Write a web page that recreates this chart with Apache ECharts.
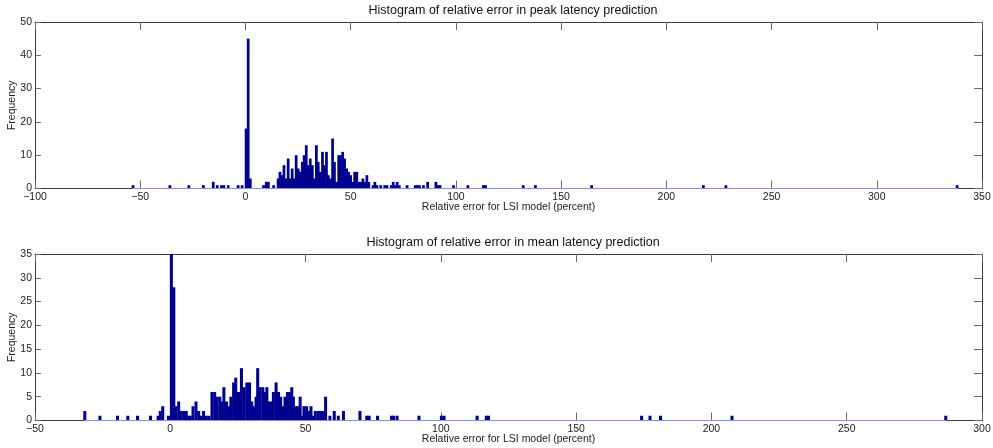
<!DOCTYPE html>
<html>
<head>
<meta charset="utf-8">
<script src="https://cdn.jsdelivr.net/npm/echarts@6/dist/echarts.min.js"></script>
<style>
html,body{margin:0;padding:0;background:#fff;}
#chart{width:993px;height:448px;}
</style>
</head>
<body>
<div id="chart"></div>
<script>
// ---------- DATA ----------
const peakTitle = 'Histogram of relative error in peak latency prediction';
const meanTitle = 'Histogram of relative error in mean latency prediction';
const xName = 'Relative error for LSI model (percent)';
const yName = 'Frequency';

const peakXTicks = [-100, -50, 0, 50, 100, 150, 200, 250, 300, 350];
const peakYTicks = [0, 10, 20, 30, 40, 50];
const meanXTicks = [-50, 0, 50, 100, 150, 200, 250, 300];
const meanYTicks = [0, 5, 10, 15, 20, 25, 30, 35];

const peakBinWidth = 0.96;
const peakCenters = [-53.4, -35.9, -26.9, -20.0, -15.3, -13.4, -11.4, -10.3, -8.2, -3.5, -1.6,
  0.3, 1.3, 2.3, 8.6, 9.9, 10.9, 13.4,
  15.5, 16.4, 17.4, 18.3, 19.3, 20.3, 21.2, 22.2, 23.1, 24.1, 25.1, 26.0, 27.0, 27.9,
  28.9, 29.9, 30.8, 31.8, 32.7, 33.7, 34.6, 35.6, 36.6, 37.5, 38.5, 39.4, 40.4, 41.4,
  42.3, 43.3, 44.3, 45.2, 46.2, 47.1, 48.1, 49.0, 50.0, 51.0, 51.9, 52.9, 53.8, 54.8,
  55.8, 56.7, 57.7, 58.6, 60.6, 61.5, 62.5,
  64.3, 66.2, 67.3, 69.3, 70.2, 71.2, 72.1, 73.1, 76.8, 80.7, 81.7, 82.7, 84.6, 86.6,
  90.5, 91.5, 92.5, 98.9, 105.7, 113.1, 114.1, 132.0, 137.8, 164.5, 217.6, 228.3, 338.2];
const peakCounts = [1, 1, 1, 1, 2, 1, 1, 1, 1, 1, 1,
  18, 45, 3, 1, 2, 2, 1,
  3, 5, 4, 7, 3, 9, 3, 6, 3, 10, 6, 5, 8, 10,
  13, 7, 9, 7, 3, 13, 8, 5, 11, 7, 11, 4, 3, 15,
  8, 2, 10, 10, 11, 9, 6, 5, 4, 2, 5, 5, 2, 2,
  3, 2, 4, 2, 1, 2, 1,
  1, 1, 1, 1, 2, 1, 2, 1, 1, 1, 1, 1, 1, 2,
  2, 1, 1, 1, 1, 1, 1, 1, 1, 1, 1, 1, 1];

const meanBinWidth = 0.86;
const meanCenters = [-31.6, -26.0, -19.5, -15.7, -12.1, -7.3, -4.5, -3.7, -2.8, -0.7,
  0.4, 1.3, 2.1, 3.1, 4.1, 5.2, 5.9, 6.8, 7.4, 8.4, 9.5, 10.5, 11.4, 12.3, 13.3, 14.3,
  15.4, 16.4, 17.3, 18.3, 19.1, 19.8, 20.8, 21.6, 22.4, 23.4, 24.2, 25.2, 26.3, 27.3,
  28.3, 29.3, 30.1, 31.0, 31.7, 32.3, 33.2, 34.2, 35.0, 35.7, 36.4, 37.3, 38.1, 39.1,
  40.0, 40.8, 41.7, 42.4, 43.3, 44.2, 44.9, 45.5, 46.4, 47.1, 48.0, 48.7, 49.4, 50.4,
  51.3, 52.0, 52.9, 53.6, 54.7, 55.6, 56.6, 57.4, 59.0, 60.6, 62.1, 64.0,
  70.1, 72.6, 73.5, 76.6, 81.8, 82.5, 83.8, 91.9, 100.2, 101.2, 113.4, 116.8, 117.6,
  174.2, 177.3, 181.2, 207.6, 286.6];
const meanCounts = [2, 1, 1, 1, 1, 1, 1, 2, 3, 1,
  41, 28, 3, 4, 2, 2, 2, 1, 1, 3, 4, 2, 1, 2, 1, 1,
  6, 6, 5, 5, 4, 7, 4, 3, 5, 8, 9, 6, 11, 7,
  8, 8, 4, 3, 5, 11, 7, 7, 6, 7, 4, 4, 6, 8,
  6, 5, 3, 5, 6, 6, 7, 5, 3, 3, 5, 1, 3, 3,
  2, 3, 1, 2, 2, 2, 2, 5, 1, 2, 1, 2,
  2, 1, 1, 1, 1, 1, 1, 1, 1, 1, 1, 1, 1,
  1, 1, 1, 1, 1];

// ---------- STYLE ----------
const FONT = '"Liberation Sans", Arial, Helvetica, sans-serif';
const BAR = '#00008f';
const BASE = '#8a8aff';
const BOX = '#3a3a3a';
const TICK = '#6a6a6a';

function fmt(v){ return String(v).replace('-', '\u2212'); }

function pack(c, n){ return c.map((x, i) => [x, n[i]]); }

function makeRender(w){
  return function(params, api){
    const x = api.value(0), y = api.value(1);
    const p0 = api.coord([x - w / 2, y]);
    const p1 = api.coord([x + w / 2, 0]);
    let width = p1[0] - p0[0] + 0.7;
    let left = p0[0] - 0.35;
    if (width < 2) { left -= (2 - width) / 2; width = 2; }
    const rect = echarts.graphic.clipRectByRect(
      {x: left, y: p0[1], width: width, height: p1[1] - p0[1]},
      {x: params.coordSys.x, y: params.coordSys.y, width: params.coordSys.width, height: params.coordSys.height});
    if (!rect) return;
    return {type: 'rect', shape: rect, style: {fill: BAR}};
  };
}

const grids = [
  {left: 35, right: 11, top: 22, height: 166.5, containLabel: false, outerBoundsMode: 'none'},
  {left: 35, right: 11, top: 254, height: 166.5, containLabel: false, outerBoundsMode: 'none'}
];

function xAxes(ticks, gi){
  const min = ticks[0], max = ticks[ticks.length - 1], iv = ticks[1] - ticks[0];
  return [
    {type: 'value', gridIndex: gi, min, max, interval: iv, position: 'bottom',
     name: xName, nameLocation: 'middle', nameGap: 18.7, nameMoveOverlap: false,
     nameTextStyle: {fontFamily: FONT, fontSize: 10.5, color: '#222', verticalAlign: 'middle'},
     axisLine: {show: true, onZero: false, lineStyle: {color: BOX, width: 1}},
     axisTick: {show: true, inside: true, length: 8, lineStyle: {color: TICK}},
     axisLabel: {formatter: fmt, fontFamily: FONT, fontSize: 10.5, color: '#222', margin: 3, showMinLabel: true, showMaxLabel: true},
     splitLine: {show: false}},
    {type: 'value', gridIndex: gi, min, max, interval: iv, position: 'top',
     axisLine: {show: true, onZero: false, lineStyle: {color: BOX, width: 1}},
     axisTick: {show: true, inside: true, length: 8, lineStyle: {color: TICK}},
     axisLabel: {show: false}, splitLine: {show: false}}
  ];
}
function yAxes(ticks, gi){
  const min = ticks[0], max = ticks[ticks.length - 1], iv = ticks[1] - ticks[0];
  return [
    {type: 'value', gridIndex: gi, min, max, interval: iv, position: 'left',
     name: yName, nameLocation: 'middle', nameGap: 23, nameMoveOverlap: false,
     nameTextStyle: {fontFamily: FONT, fontSize: 10.5, color: '#222', verticalAlign: 'middle'},
     axisLine: {show: true, onZero: false, lineStyle: {color: BOX, width: 1}},
     axisTick: {show: true, inside: true, length: 6, lineStyle: {color: TICK}},
     axisLabel: {fontFamily: FONT, fontSize: 10.5, color: '#222', margin: 3, showMinLabel: true, showMaxLabel: true},
     splitLine: {show: false}},
    {type: 'value', gridIndex: gi, min, max, interval: iv, position: 'right',
     axisLine: {show: true, onZero: false, lineStyle: {color: BOX, width: 1}},
     axisTick: {show: true, inside: true, length: 8, lineStyle: {color: TICK}},
     axisLabel: {show: false}, splitLine: {show: false}}
  ];
}

const peakBase = [[peakCenters[0] - peakBinWidth / 2, 0], [peakCenters[peakCenters.length - 1] + peakBinWidth / 2, 0]];
const meanBase = [[meanCenters[0] - meanBinWidth / 2, 0], [meanCenters[meanCenters.length - 1] + meanBinWidth / 2, 0]];

const option = {
  backgroundColor: '#fff',
  animation: false,
  title: [
    {text: peakTitle, left: 508, top: -1, textAlign: 'center',
     textStyle: {fontFamily: FONT, fontSize: 12.5, fontWeight: 'normal', color: '#111'}},
    {text: meanTitle, left: 508, top: 231, textAlign: 'center',
     textStyle: {fontFamily: FONT, fontSize: 12.5, fontWeight: 'normal', color: '#111'}}
  ],
  grid: grids,
  xAxis: [...xAxes(peakXTicks, 0), ...xAxes(meanXTicks, 1)],
  yAxis: [...yAxes(peakYTicks, 0), ...yAxes(meanYTicks, 1)],
  series: [
    {type: 'custom', xAxisIndex: 0, yAxisIndex: 0, renderItem: makeRender(peakBinWidth),
     data: pack(peakCenters, peakCounts), encode: {x: 0, y: 1}, silent: true},
    {type: 'line', xAxisIndex: 0, yAxisIndex: 0, data: peakBase, symbol: 'none',
     lineStyle: {color: BASE, width: 1.2}, silent: true, z: 3},
    {type: 'custom', xAxisIndex: 2, yAxisIndex: 2, renderItem: makeRender(meanBinWidth),
     data: pack(meanCenters, meanCounts), encode: {x: 0, y: 1}, silent: true},
    {type: 'line', xAxisIndex: 2, yAxisIndex: 2, data: meanBase, symbol: 'none',
     lineStyle: {color: BASE, width: 1.2}, silent: true, z: 3}
  ]
};

const chart = echarts.init(document.getElementById('chart'), null, {renderer: 'canvas'});
chart.setOption(option);
</script>
</body>
</html>
